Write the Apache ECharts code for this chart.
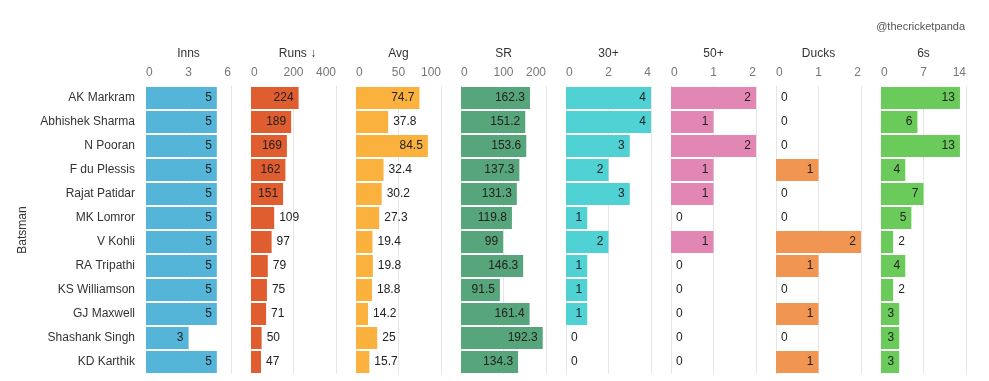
<!DOCTYPE html>
<html><head><meta charset="utf-8">
<script src="https://cdn.jsdelivr.net/npm/echarts@6/dist/echarts.min.js"></script>
<style>html,body{margin:0;padding:0;background:#fff}#c{width:989px;height:381px}</style>
</head><body><div id="c"></div>
<script>
const batsmen = ['AK Markram','Abhishek Sharma','N Pooran','F du Plessis','Rajat Patidar','MK Lomror','V Kohli','RA Tripathi','KS Williamson','GJ Maxwell','Shashank Singh','KD Karthik'];
const inns  = [5,5,5,5,5,5,5,5,5,5,3,5];
const runs  = [224,189,169,162,151,109,97,79,75,71,50,47];
const avg   = [74.7,37.8,84.5,32.4,30.2,27.3,19.4,19.8,18.8,14.2,25,15.7];
const sr    = [162.3,151.2,153.6,137.3,131.3,119.8,99,146.3,91.5,161.4,192.3,134.3];
const fifties30 = [4,4,3,2,3,1,2,1,1,1,0,0];
const fifties50 = [2,1,2,1,1,0,1,0,0,0,0,0];
const ducks = [0,0,0,1,0,0,2,1,0,1,0,1];
const sixes = [13,6,13,4,7,5,2,4,2,3,3,3];
const headers = ['Inns','Runs ↓','Avg','SR','30+','50+','Ducks','6s'];
const axisMax = [6,400,100,200,4,2,2,14];
const axisStep = [3,200,50,100,2,1,1,7];

const panels = [inns,runs,avg,sr,fifties30,fifties50,ducks,sixes];
const colors = ['#55b5d9','#e05d2f','#fbb13d','#57a57b','#50d1d3','#e287b4','#f19552','#6acb5a'];

const FONT = '"Liberation Sans", Arial, sans-serif';
const cv = document.createElement('canvas').getContext('2d');
cv.font = '12px ' + FONT;
const P0 = 146, PW = 85, PS = 105, TOP = 86, H = 288;

const grid=[], xAxis=[], yAxis=[], series=[], title=[];
panels.forEach((vals,i)=>{
  const left = P0 + PS*i;
  grid.push({left:left, top:TOP, width:PW, height:H, containLabel:false});
  xAxis.push({type:'value', gridIndex:i, position:'top', min:0, max:axisMax[i], interval:axisStep[i],
    axisLine:{show:false}, axisTick:{show:false},
    axisLabel:{color:'#777', fontSize:12, fontFamily:FONT, margin:7, alignMinLabel:'left', alignMaxLabel:'right'},
    splitLine:{show:true, lineStyle:{color:'#e6e6e6', width:1}}});
  yAxis.push({type:'category', gridIndex:i, data:batsmen, inverse:true,
    axisLine:{show:false}, axisTick:{show:false},
    axisLabel:{show:i===0, color:'#333', fontSize:12, fontFamily:FONT, margin:11},
    name: i===0 ? 'Batsman' : '', nameLocation:'middle', nameRotate:90, nameGap:117,
    nameTextStyle:{color:'#333', fontSize:12, fontFamily:FONT}});
  const pxPer = PW / axisMax[i];
  series.push({type:'bar', xAxisIndex:i, yAxisIndex:i, barWidth:22,
    itemStyle:{color:colors[i]},
    data: vals.map(v=>{
      const tw = cv.measureText(String(v)).width;
      const inside = v*pxPer - tw > 11;
      return {value:v, label:{show:true, position: inside?'insideRight':'right', distance:5,
        color:'#222', fontSize:12, fontFamily:FONT, formatter:String(v)}};
    })});
  title.push({text:headers[i], left: left + PW/2 + (i===1?4:0), top:48, padding:0, textAlign:'center',
    textStyle:{fontSize:12, fontWeight:'normal', color:'#333', fontFamily:FONT}});
});
title.push({text:'@thecricketpanda', right:24, top:21, padding:0,
  textStyle:{fontSize:11, fontWeight:'normal', color:'#555', fontFamily:FONT}});

const chart = echarts.init(document.getElementById('c'), null, {renderer:'canvas'});
chart.setOption({animation:false, backgroundColor:'#fff', title, grid, xAxis, yAxis, series});
</script></body></html>
